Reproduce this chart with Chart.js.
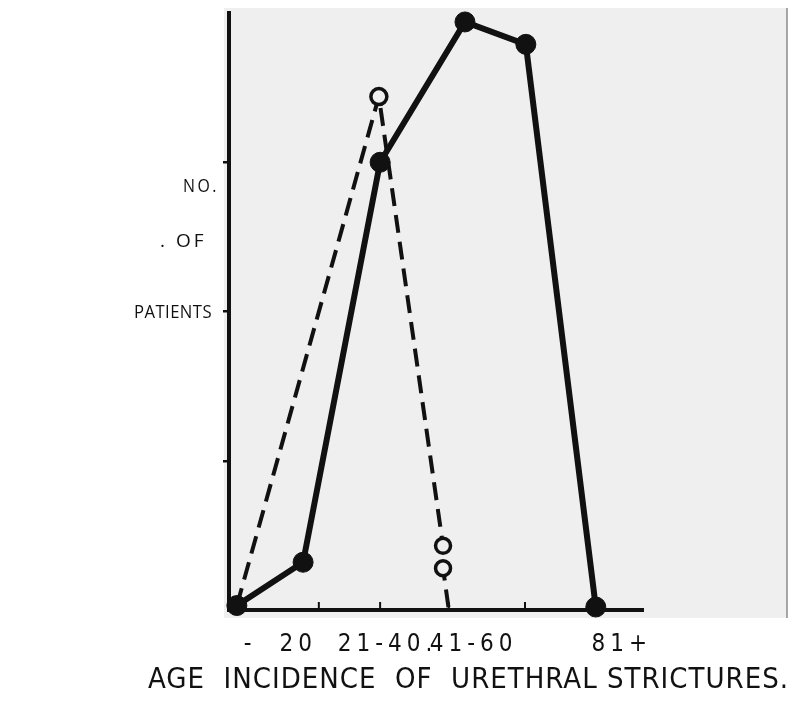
<!DOCTYPE html>
<html>
<head>
<meta charset="utf-8">
<script src="https://cdn.jsdelivr.net/npm/chart.js@4.4.1/dist/chart.umd.min.js"></script>
<style>
  html, body { margin: 0; padding: 0; background: #fff; }
</style>
</head>
<body>
<canvas id="myChart" width="793" height="708"></canvas>
<script>
// x values are positions along the drawn axis (0 = y axis, 100 = end of x axis)
const solidX = [1.9, 17.9, 36.5, 57.0, 71.7, 88.6];
const solidY = [0.03, 0.32, 3.0, 3.94, 3.79, 0.02];
const dashedX = [1.9, 36.2, 51.7, 51.7, 53.1];
const dashedY = [0.03, 3.44, 0.43, 0.28, 0];
const xTickMarks = [21.7, 36.5, 53.1, 71.5];
const xLabelPos = [5.1, 16.7, 38.3, 59.1, 94.9];
const xLabels = ['-', '20', '21-40.', '41-60', '81+'];
const yLabelLines = ['NO.', '. OF', 'PATIENTS'];
const chartTitle = 'AGE  INCIDENCE  OF  URETHRAL STRICTURES.';

const narrow = "'Liberation Sans Narrow', 'DejaVu Sans Condensed', sans-serif";
const ink = '#111';
const paper = '#efefef';

const toPoints = (xs, ys) => xs.map((x, i) => ({ x: x, y: ys[i] }));

// grey scanned page behind the plot
const paperPlugin = {
    id: 'paper',
    beforeDraw(chart) {
        const { ctx, chartArea } = chart;
        ctx.save();
        ctx.fillStyle = paper;
        ctx.fillRect(chartArea.left - 5, chartArea.top - 5, chartArea.right - chartArea.left + 149, chartArea.bottom - chartArea.top + 13);
        ctx.strokeStyle = '#8a8a8a';
        ctx.lineWidth = 1.5;
        ctx.beginPath();
        ctx.moveTo(chartArea.right + 144, chartArea.top - 5);
        ctx.lineTo(chartArea.right + 144, chartArea.bottom + 8);
        ctx.stroke();
        ctx.restore();
        // spaced-out lettering used by the axis labels
        ctx.letterSpacing = '5px';
    }
};

// small tick marks standing up from the x axis, the y caption and the title
const marksPlugin = {
    id: 'marks',
    afterDraw(chart) {
        const { ctx, chartArea, scales } = chart;
        ctx.save();
        ctx.strokeStyle = ink;
        ctx.lineWidth = 2;
        xTickMarks.forEach(v => {
            const px = scales.x.getPixelForValue(v);
            ctx.beginPath();
            ctx.moveTo(px, chartArea.bottom);
            ctx.lineTo(px, chartArea.bottom - 8);
            ctx.stroke();
        });

        ctx.fillStyle = ink;
        ctx.textBaseline = 'middle';
        ctx.textAlign = 'left';
        ctx.font = "19px 'Open Sans', sans-serif";
        ctx.letterSpacing = '3px';
        ctx.fillText(yLabelLines[0], 183, 187, 36);
        ctx.fillText(yLabelLines[1], 160, 242);
        ctx.letterSpacing = '0.5px';
        ctx.fillText(yLabelLines[2], 134, 313, 78);

        ctx.font = '29px ' + narrow;
        ctx.letterSpacing = '1px';
        ctx.textAlign = 'right';
        ctx.fillText(chartTitle, 789, 680);
        ctx.restore();
    }
};

const data = {
    datasets: [
        {
            label: 'solid',
            data: toPoints(solidX, solidY),
            borderColor: ink,
            borderWidth: 6,
            pointRadius: 10,
            pointBackgroundColor: ink,
            pointBorderColor: ink,
            pointBorderWidth: 1,
            tension: 0,
            clip: false
        },
        {
            label: 'dashed',
            data: toPoints(dashedX, dashedY),
            borderColor: ink,
            borderWidth: 4,
            borderDash: [18, 9],
            pointRadius: [0, 8, 7.5, 7.5, 0],
            pointBackgroundColor: paper,
            pointBorderColor: ink,
            pointBorderWidth: 3.5,
            tension: 0,
            clip: false
        }
    ]
};

const config = {
    type: 'line',
    data: data,
    plugins: [paperPlugin, marksPlugin],
    options: {
        responsive: false,
        animation: false,
        layout: { padding: { left: 0, top: 13, right: 5, bottom: 50 } },
        plugins: {
            legend: { display: false },
            tooltip: { enabled: false },
            title: { display: false }
        },
        scales: {
            x: {
                type: 'linear',
                min: 0,
                max: 100,
                position: 'bottom',
                border: { color: ink, width: 4 },
                grid: { display: false, drawTicks: false },
                ticks: {
                    autoSkip: false,
                    maxRotation: 0,
                    padding: 20,
                    color: ink,
                    font: { family: narrow, size: 24 },
                    callback: (v, i) => xLabels[i]
                },
                afterBuildTicks: s => { s.ticks = xLabelPos.map(v => ({ value: v })); },
                afterFit: s => { s.height = 48; }
            },
            y: {
                type: 'linear',
                min: 0,
                max: 4,
                position: 'left',
                border: { color: ink, width: 4 },
                grid: {
                    drawOnChartArea: false,
                    drawTicks: true,
                    tickLength: 6,
                    lineWidth: 2.5,
                    color: c => (c.tick && (c.tick.value === 0 || c.tick.value === 4)) ? 'rgba(0,0,0,0)' : ink
                },
                ticks: { display: false, stepSize: 1 },
                afterFit: s => { s.width = 229; }
            },
            yr: {
                type: 'linear',
                position: 'right',
                grid: { display: false },
                border: { display: false },
                ticks: { display: false },
                afterFit: s => { s.width = 145; }
            }
        }
    }
};

const ctx = document.getElementById('myChart').getContext('2d');
new Chart(ctx, config);
</script>
</body>
</html>
